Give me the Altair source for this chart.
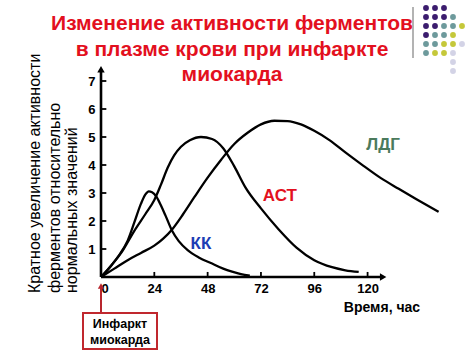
import altair as alt
import pandas as pd

# ---------------- data ----------------
KK_T = [0, 4, 8, 12, 15, 18, 20, 21.5, 23, 25, 27, 29, 32, 35, 39, 44, 50, 55, 59, 63, 67]
KK_V = [0, 0.35, 0.76, 1.3, 1.95, 2.62, 2.95, 3.06, 3.03, 2.86, 2.55, 2.2, 1.65, 1.28, 0.96, 0.7, 0.48, 0.3, 0.19, 0.1, 0.05]

AST_T = [0, 5, 9, 15, 20, 24, 27, 30, 33, 36, 40, 45, 50, 55, 60, 65, 72, 80, 88, 96, 104, 110, 116]
AST_V = [0, 0.45, 0.85, 1.65, 2.25, 2.75, 3.3, 3.9, 4.35, 4.65, 4.88, 5.0, 4.93, 4.6, 3.95, 3.2, 2.45, 1.7, 1.05, 0.6, 0.35, 0.24, 0.18]

LDH_T = [0, 6, 12, 18, 24, 28, 32, 37, 42, 48, 54, 60, 66, 72, 78, 84, 90, 96, 103, 110, 118, 126, 134, 142, 152]
LDH_V = [0, 0.3, 0.6, 0.86, 1.12, 1.37, 1.7, 2.25, 2.85, 3.55, 4.18, 4.75, 5.15, 5.45, 5.58, 5.57, 5.45, 5.22, 4.88, 4.45, 3.98, 3.53, 3.15, 2.78, 2.33]

X_TICKS = [0, 24, 48, 72, 96, 120]
Y_TICKS = [1, 2, 3, 4, 5, 6, 7]

LABEL_NAMES = ["ЛДГ", "АСТ", "КК"]
LABEL_T = [127, 80.5, 45]
LABEL_V = [4.73, 2.9, 1.18]
LABEL_COLORS = ["#4b7a5c", "#e3101e", "#1c3cb4"]

TITLE_LINES = ["Изменение активности ферментов", "в плазме крови при инфаркте", "миокарда"]
YTITLE_LINES = ["Кратное увеличение активности", "ферментов относительно", "нормальных значений"]
X_TITLE = "Время, час"
NOTE_LINES = ["Инфаркт", "миокарда"]

# decorative dot grid (P purple, T teal, Y yellow-green, L lavender)
DOT_ROWS = ["PPP", "PPPT", "PPTTY", "PTTY", "TTYYL", "TYYL", "...L", "...L"]
DOT_COLORS = {"P": "#3b1c6e", "T": "#6d9a9c", "Y": "#c5c83a", "L": "#d3d3e6"}

# ---------------- layout ----------------
FONT = "Liberation Sans"
W, H = 359, 210
PAD = {"left": 101, "top": 67, "right": 14, "bottom": 78}
X_MAX = 161.6
Y_MAX = 7.5
X_AXIS_END = 127
Y_AXIS_END = 7.42

xs = alt.Scale(domain=[0, X_MAX], nice=False, zero=False)
ys = alt.Scale(domain=[0, Y_MAX], nice=False, zero=False)
x_axis = alt.Axis(values=X_TICKS, domain=False, ticks=False, grid=False, labelFont=FONT,
                  labelFontSize=13, labelFontWeight="bold", labelColor="black",
                  labelPadding=5, title=None)
y_axis = alt.Axis(values=Y_TICKS, domain=False, ticks=False, grid=False, labelFont=FONT,
                  labelFontSize=13, labelFontWeight="bold", labelColor="black",
                  labelPadding=6, title=None)


def X(f):
    return alt.X(f, type="quantitative", scale=xs, axis=x_axis)


def Y(f):
    return alt.Y(f, type="quantitative", scale=ys, axis=y_axis)


curves = pd.concat([
    pd.DataFrame({"t": KK_T, "v": KK_V, "s": "КК"}),
    pd.DataFrame({"t": AST_T, "v": AST_V, "s": "АСТ"}),
    pd.DataFrame({"t": LDH_T, "v": LDH_V, "s": "ЛДГ"}),
])

lines = alt.Chart(curves).mark_line(interpolate="monotone", color="black", strokeWidth=2.3).encode(
    x=X("t"), y=Y("v"), detail="s:N")

xline = alt.Chart(pd.DataFrame({"t": [0], "t2": [X_AXIS_END], "v": [0]})).mark_rule(
    color="black", strokeWidth=2.6).encode(x=X("t"), x2="t2:Q", y=Y("v"))
yline = alt.Chart(pd.DataFrame({"t": [0], "v": [0], "v2": [Y_AXIS_END]})).mark_rule(
    color="black", strokeWidth=2.6).encode(x=X("t"), y=Y("v"), y2="v2:Q")
arrows = alt.Chart(pd.DataFrame({"t": [X_AXIS_END, 0], "v": [0, Y_AXIS_END],
                                 "sh": ["triangle-right", "triangle-up"]})).mark_point(
    filled=True, color="black", size=55, opacity=1).encode(
    x=X("t"), y=Y("v"), shape=alt.Shape("sh:N", scale=None))

xt = alt.Chart(pd.DataFrame({"t": X_TICKS[1:], "v": 0, "v2": 0.18})).mark_rule(
    color="black", strokeWidth=1.8).encode(x=X("t"), y=Y("v"), y2="v2:Q")
yt = alt.Chart(pd.DataFrame({"v": Y_TICKS, "t": 0, "t2": 2.4})).mark_rule(
    color="black", strokeWidth=1.8).encode(x=X("t"), x2="t2:Q", y=Y("v"))

labels = alt.Chart(pd.DataFrame({"n": LABEL_NAMES, "t": LABEL_T, "v": LABEL_V, "c": LABEL_COLORS})).mark_text(
    font=FONT, fontSize=17, fontWeight="bold", baseline="middle", align="center").encode(
    x=X("t"), y=Y("v"), text="n:N", color=alt.Color("c:N", scale=None))

one = pd.DataFrame({"a": [0]})
layers = [lines, xline, yline, arrows, xt, yt, labels]

for i, (txt, yy) in enumerate(zip(TITLE_LINES, [-37, -11, 14])):
    layers.append(alt.Chart(one).mark_text(font=FONT, fontSize=21, fontWeight="bold", color="#e3101e",
                                           align="center", baseline="alphabetic", text=txt).encode(
        x=alt.value(131), y=alt.value(yy)))

for txt, xx in zip(YTITLE_LINES, [-66, -46, -29]):
    layers.append(alt.Chart(one).mark_text(font=FONT, fontSize=16, color="black", angle=270,
                                           align="left", baseline="middle", text=txt).encode(
        x=alt.value(xx), y=alt.value(226)))

layers.append(alt.Chart(one).mark_text(font=FONT, fontSize=14, fontWeight="bold", color="black",
                                       align="center", baseline="middle", text=X_TITLE).encode(
    x=alt.value(281), y=alt.value(241)))

# infarct marker
layers.append(alt.Chart(one).mark_rule(color="#b8262e", strokeWidth=2).encode(
    x=alt.value(0), y=alt.value(221), y2=alt.value(246)))
layers.append(alt.Chart(one).mark_point(shape="triangle-up", filled=True, color="#b8262e", size=40,
                                        opacity=1).encode(x=alt.value(0), y=alt.value(219)))
layers.append(alt.Chart(one).mark_rect(fill="white", stroke="#c0282e", strokeWidth=2).encode(
    x=alt.value(-18), x2=alt.value(56), y=alt.value(246), y2=alt.value(282)))
for txt, yy in zip(NOTE_LINES, [257, 273]):
    layers.append(alt.Chart(one).mark_text(font=FONT, fontSize=12.5, fontWeight="bold", color="black",
                                           align="center", baseline="middle", text=txt).encode(
        x=alt.value(19), y=alt.value(yy)))

# decorative separator line
layers.append(alt.Chart(one).mark_rule(color="#9a9a9a", strokeWidth=1.5).encode(
    x=alt.value(312), y=alt.value(-60), y2=alt.value(-9)))

main = alt.layer(*layers)

dot_rows = []
for r, row in enumerate(DOT_ROWS):
    for c, ch in enumerate(row):
        if ch in DOT_COLORS:
            dot_rows.append({"col": c, "row": r, "color": DOT_COLORS[ch]})
dots = alt.Chart(pd.DataFrame(dot_rows)).mark_circle(size=34, opacity=1).encode(
    x=alt.X("col:Q", scale=alt.Scale(domain=[0, 4], range=[325, 361]), axis=None),
    y=alt.Y("row:Q", scale=alt.Scale(domain=[0, 7], range=[-59, 4]), axis=None),
    color=alt.Color("color:N", scale=None))

chart = alt.layer(main, dots).resolve_scale(x="independent", y="independent").properties(
    width=W, height=H, padding=PAD, autosize=alt.AutoSizeParams(type="none"),
    background="white").configure_view(stroke=None)

chart.save("out.html", embed_options={"renderer": "svg", "actions": False})
